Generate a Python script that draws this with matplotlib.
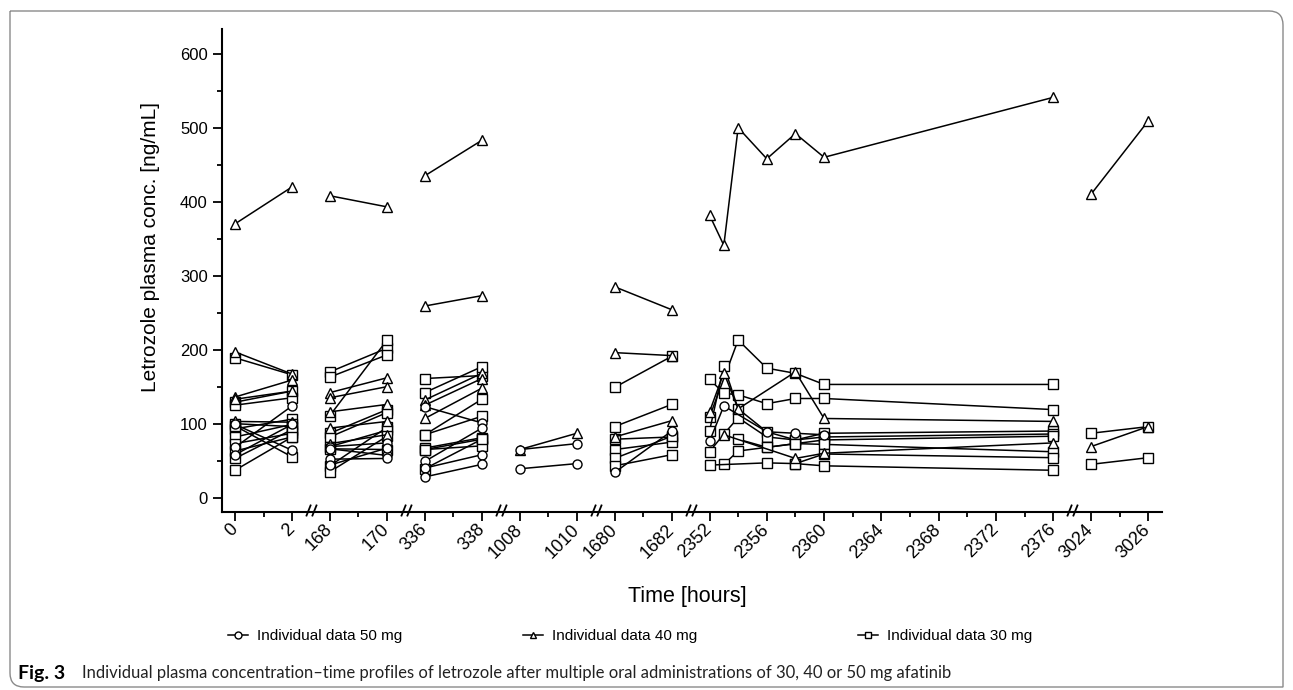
import numpy as np
import matplotlib
matplotlib.use('Agg')
import matplotlib.pyplot as plt
from matplotlib.path import Path
from matplotlib.patches import PathPatch
from matplotlib.lines import Line2D

plt.rcParams['font.family'] = ['Liberation Sans', 'DejaVu Sans']

nan = np.nan

# segments of the broken time axis (hours)
segments = [(0, 2), (168, 170), (336, 338), (1008, 1010), (1680, 1682), (2352, 2376), (3024, 3026)]

major_ticks = [0, 2, 168, 170, 336, 338, 1008, 1010, 1680, 1682,
               2352, 2356, 2360, 2364, 2368, 2372, 2376, 3024, 3026]
minor_ticks = [1, 169, 337, 1009, 1681, 2354, 2358, 2362, 2366, 2370, 2374, 3025]

# two-point segments: (first sample, second sample) in ng/mL
seg0_50mg = [(69, 125), (59, 100), (100, 65)]
seg0_40mg = [(371, 421), (198, 168), (137, 160), (134, 145), (104, 103)]
seg0_30mg = [(190, 167), (130, 145), (126, 136), (101, 97), (94, 107), (83, 100),
             (74, 88), (64, 83), (54, 93), (38, 83), (98, 56)]

seg168_50mg = [(70, 75), (67, 58), (53, 54), (45, 68)]
seg168_40mg = [(409, 394), (143, 163), (136, 151), (117, 127), (95, 104), (74, 86)]
seg168_30mg = [(171, 203), (164, 194), (112, 214), (88, 120), (83, 116), (70, 92),
               (67, 66), (44, 96), (36, 84)]

seg336_50mg = [(124, 102), (50, 95), (41, 59), (29, 46)]
seg336_40mg = [(436, 484), (260, 274), (133, 169), (126, 162), (108, 149)]
seg336_30mg = [(162, 166), (143, 178), (86, 134), (86, 111), (68, 82), (66, 80),
               (66, 71), (40, 80)]

seg1008_50mg = [(66, 74), (40, 47)]
seg1008_40mg = [(66, 88)]
seg1008_30mg = []

seg1680_50mg = [(35, 91)]
seg1680_40mg = [(286, 255), (197, 193), (83, 105)]
seg1680_30mg = [(150, 192), (97, 127), (80, 83), (66, 76), (54, 84), (44, 59)]

seg3024_50mg = []
seg3024_40mg = [(411, 510), (70, 97)]
seg3024_30mg = [(88, 97), (46, 55)]

# multi-sample segment 2352-2376 h
times_2352 = [2352, 2353, 2354, 2356, 2358, 2360, 2376]
seg2352_50mg = [[77, 125, nan, 90, 88, 86, nan]]
seg2352_40mg = [[383, 342, 501, 459, 493, 461, 542],
                [117, 170, 121, nan, 171, 108, 104],
                [nan, 86, nan, nan, 54, 61, 75]]
seg2352_30mg = [[110, nan, 214, 176, 169, 154, 154],
                [161, 142, 140, 128, 135, 135, 120],
                [91, 179, 121, 90, 79, 88, 91],
                [63, 87, 109, 83, 79, 83, 87],
                [nan, nan, 80, 69, 74, 79, 84],
                [nan, 46, 64, 69, 74, 73, 63],
                [45, nan, nan, 48, 47, 60, 55],
                [nan, nan, nan, nan, 47, 44, 38]]

# ---- piecewise x scale ----
W_SHORT = 28.55
W_LONG = 14.32
GAP = 37.8
kt, ku = [], []
u = 0.0
for a, b in segments:
    w = W_LONG if b - a > 2 else W_SHORT
    kt += [a, b]
    ku += [u, u + (b - a) * w]
    u += (b - a) * w + GAP
kt = np.array(kt, float)
ku = np.array(ku, float)


def fwd(t):
    t = np.asarray(t, float)
    out = np.interp(t, kt, ku)
    out = np.where(t < kt[0], ku[0] + (t - kt[0]) * W_SHORT, out)
    out = np.where(t > kt[-1], ku[-1] + (t - kt[-1]) * W_SHORT, out)
    return out


def inv(x):
    x = np.asarray(x, float)
    out = np.interp(x, ku, kt)
    out = np.where(x < ku[0], kt[0] + (x - ku[0]) / W_SHORT, out)
    out = np.where(x > ku[-1], kt[-1] + (x - ku[-1]) / W_SHORT, out)
    return out


fig = plt.figure(figsize=(12.93, 6.90), dpi=100)
W, H = 1293, 690
ax = fig.add_axes([221.7 / W, 1 - 511.7 / H, 940 / W, 482.4 / H])
ax.set_xscale('function', functions=(fwd, inv))

seg_data = [
    (segments[0], seg0_50mg, seg0_40mg, seg0_30mg),
    (segments[1], seg168_50mg, seg168_40mg, seg168_30mg),
    (segments[2], seg336_50mg, seg336_40mg, seg336_30mg),
    (segments[3], seg1008_50mg, seg1008_40mg, seg1008_30mg),
    (segments[4], seg1680_50mg, seg1680_40mg, seg1680_30mg),
    (segments[6], seg3024_50mg, seg3024_40mg, seg3024_30mg),
]

kw = dict(color='black', lw=1.1, mfc='white', mec='black', mew=1.0, ms=6.5)

for tt, d50, d40, d30 in seg_data:
    for data, mk in ((d30, 's'), (d40, '^'), (d50, 'o')):
        for pair in data:
            ax.plot(tt, pair, marker=mk, **kw)

t6 = np.array(times_2352)
for data, mk in ((seg2352_30mg, 's'), (seg2352_40mg, '^'), (seg2352_50mg, 'o')):
    for ser in data:
        v = np.array(ser, float)
        ok = ~np.isnan(v)
        ax.plot(t6[ok], v[ok], marker=mk, **kw)

ax.set_xlim(inv(-13.3), inv(ku[-1] + 13.6))
ax.set_ylim(-18, 634)

ax.spines['top'].set_visible(False)
ax.spines['right'].set_visible(False)
for s in ('left', 'bottom'):
    ax.spines[s].set_linewidth(1.5)

ax.set_xticks(major_ticks)
ax.set_xticklabels([str(t) for t in major_ticks], rotation=45, ha='right',
                   va='center', rotation_mode='anchor', fontsize=13)
ax.set_xticks(minor_ticks, minor=True)
ax.set_yticks(np.arange(0, 601, 100))
ax.set_yticks(np.arange(50, 600, 100), minor=True)
ax.tick_params(axis='y', labelsize=12)
ax.tick_params(which='major', length=6.5, width=1.3)
ax.tick_params(which='minor', length=3.5, width=1.3)
ax.tick_params(axis='x', which='major', pad=4.5)

ax.set_ylabel('Letrozole plasma conc. [ng/mL]', fontsize=15)
ax.yaxis.set_label_coords(-0.0656, 0.549)
ax.set_xlabel('Time [hours]', fontsize=15.5)
ax.xaxis.set_label_coords(0.495, -0.153)

# axis break marks
brk = Path([(-0.9, -1), (-0.1, 1), (0.1, -1), (0.9, 1)],
           [Path.MOVETO, Path.LINETO, Path.MOVETO, Path.LINETO])
for i in range(len(segments) - 1):
    xm = inv((ku[2 * i + 1] + ku[2 * i + 2]) / 2)
    ax.plot([xm], [0.004], transform=ax.get_xaxis_transform(), marker=brk,
            ms=8.5, mew=1.3, color='black', clip_on=False, ls='none')

# legend
labels = ['Individual data 50 mg', 'Individual data 40 mg', 'Individual data 30 mg']
xs = [228, 523, 858]
for lab, mk, x0 in zip(labels, ['o', '^', 's'], xs):
    h = Line2D([], [], color='black', lw=1.1, marker=mk, mfc='white', mec='black',
               mew=1.0, ms=5)
    fig.legend(handles=[h], labels=[lab], loc='center left', bbox_to_anchor=(x0 / W, 1 - 636 / H),
               frameon=False, fontsize=11, handlelength=1.3, handletextpad=0.6,
               borderpad=0, borderaxespad=0)

# caption
fig.text(18 / W, 1 - 673 / H, 'Fig. 3', fontsize=14, fontweight='bold', family='Lato',
         va='center', ha='left')
fig.text(82 / W, 1 - 673 / H,
         'Individual plasma concentration\u2013time profiles of letrozole after multiple oral '
         'administrations of 30, 40 or 50 mg afatinib',
         fontsize=12, family='Lato', va='center', ha='left', color='#222222')

# frame with rounded corners
r = 14
pts = [(10, 11), (1283 - r, 11), (1283, 11), (1283, 11 + r), (1283, 687),
       (10 + r, 687), (10, 687), (10, 687 - r), (10, 11)]
codes = [Path.MOVETO, Path.LINETO, Path.CURVE3, Path.CURVE3, Path.LINETO,
         Path.LINETO, Path.CURVE3, Path.CURVE3, Path.LINETO]
pts = [(x / W, 1 - y / H) for x, y in pts]
fig.patches.append(PathPatch(Path(pts, codes), transform=fig.transFigure, fill=False,
                             edgecolor='#8a8a8a', lw=1.0))

fig.savefig('out.png', dpi=100)
